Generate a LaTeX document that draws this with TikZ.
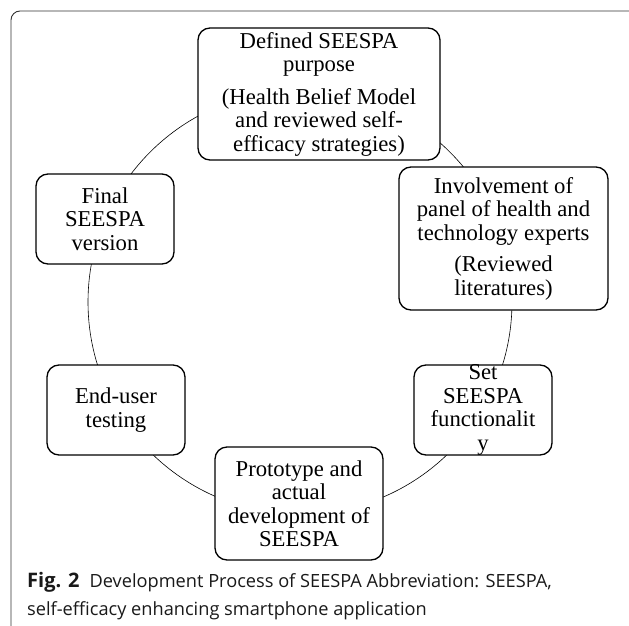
\documentclass[tikz,border=0pt]{standalone}
\usepackage{fontspec}
\setmainfont{Liberation Serif}
\newfontfamily\capfont{Open Sans}
\newcommand\stagefont{\fontsize{22.7}{23.5}\selectfont}

\begin{document}
\begin{tikzpicture}[
			x=1pt, y=-1pt,
			stage/.style={draw, line width=1.3pt, rounded corners=12pt, fill=white,
				align=center, inner sep=0pt, font=\stagefont},
			line cap=round,
			line join=round
			]
			\useasboundingbox (0,0) rectangle (629,626);
			
			% Frame
			\draw[line width=0.9pt, black!80, rounded corners=9pt] (11,11) rectangle (660,660);
			
			% Ring
			\coordinate (ring) at (300,302);
			\draw[line width=0.6pt] (ring) circle (212pt);
			
			% Stages
			\node[stage, minimum width=242pt, minimum height=132pt] (purpose) at (319,94)
				{Defined SEESPA\\ purpose\\[9pt] (Health Belief Model\\ and reviewed self-\\ efficacy strategies)};
			\node[stage, minimum width=209pt, minimum height=143pt] (experts) at (503.5,238.5)
				{Involvement of\\ panel of health and\\ technology experts\\[8pt] (Reviewed\\ literatures)};
			\node[stage, minimum width=138pt, text height=85pt, text depth=5pt] (func) at (483,410)
				{Set\\ SEESPA\\ functionalit\\ y};
			\node[stage, minimum width=168pt, minimum height=113pt] (proto) at (299,503.5)
				{Prototype and\\ actual\\ development of\\ SEESPA};
			\node[stage, minimum width=138pt, minimum height=90pt] (testing) at (116,410)
				{End-user\\ testing};
			\node[stage, minimum width=138pt, minimum height=90pt] (final) at (105,219)
				{Final\\ SEESPA\\ version};
			
			% Caption
			\node[anchor=base west, align=left, inner sep=0pt, text=black!90,
				font=\capfont\fontsize{18.2}{28}\selectfont] (caption) at (27,615)
				{{\fontsize{20}{28}\selectfont\bfseries Fig. 2}\hspace{10pt}Development Process of SEESPA Abbreviation: SEESPA,\\
				self-efficacy enhancing smartphone application};
		\end{tikzpicture}
\end{document}
